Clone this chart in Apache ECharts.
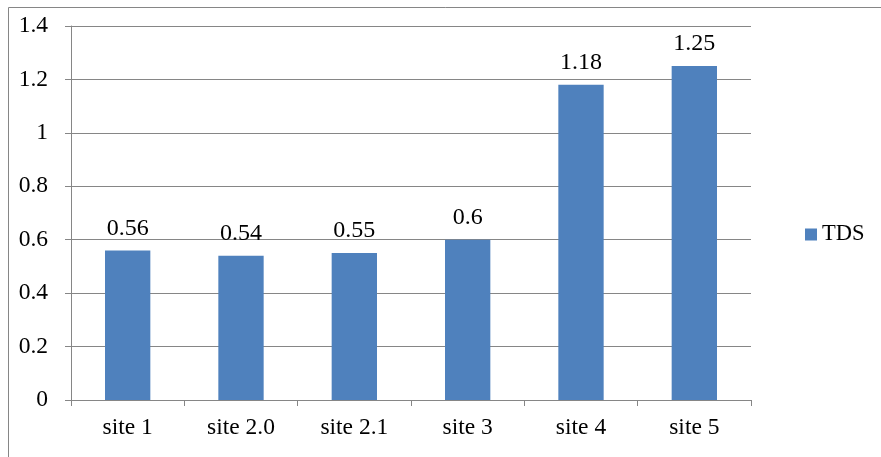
<!DOCTYPE html>
<html>
<head>
<meta charset="utf-8">
<script src="https://cdn.jsdelivr.net/npm/echarts@6/dist/echarts.min.js"></script>
<style>
  html, body { margin: 0; padding: 0; background: #fff; }
  #chart { width: 881px; height: 457px; }
</style>
</head>
<body>
<div id="chart"></div>
<script>
// Sites sampled and their TDS readings
const categories = ['site 1', 'site 2.0', 'site 2.1', 'site 3', 'site 4', 'site 5'];
const tdsValues = [0.56, 0.54, 0.55, 0.6, 1.18, 1.25];
const seriesName = 'TDS';

const FONT = '"Liberation Serif", "Times New Roman", serif';
const GRID_COLOR = '#868686';

const chart = echarts.init(document.getElementById('chart'), null, { renderer: 'canvas' });

chart.setOption({
  backgroundColor: '#ffffff',
  animation: false,
  graphic: [
    {
      type: 'rect',
      shape: { x: 8.5, y: 7.5, width: 900, height: 480 },
      style: { fill: 'none', stroke: GRID_COLOR, lineWidth: 1 },
      silent: true
    }
  ],
  legend: {
    data: [seriesName],
    left: 800,
    top: 218,
    itemWidth: 12,
    itemHeight: 12,
    icon: 'rect',
    textStyle: { fontFamily: FONT, fontSize: 22.5, color: '#000' }
  },
  grid: {
    left: 71,
    right: 130,
    top: 26,
    bottom: 57,
    containLabel: false
  },
  xAxis: {
    type: 'category',
    data: categories,
    axisLine: { show: true, lineStyle: { color: GRID_COLOR, width: 1 } },
    axisTick: { show: true, length: 6, alignWithLabel: false, lineStyle: { color: GRID_COLOR } },
    axisLabel: { fontFamily: FONT, fontSize: 23.5, color: '#000', margin: 16 },
    splitLine: { show: false }
  },
  yAxis: {
    type: 'value',
    min: 0,
    max: 1.4,
    interval: 0.2,
    axisLine: { show: true, lineStyle: { color: GRID_COLOR, width: 1 } },
    axisTick: { show: true, length: 6, inside: false, lineStyle: { color: GRID_COLOR } },
    axisLabel: {
      fontFamily: FONT, fontSize: 23.5, color: '#000', margin: 23,
      formatter: v => String(Math.round(v * 10) / 10)
    },
    splitLine: { show: true, lineStyle: { color: GRID_COLOR, width: 1 } }
  },
  series: [
    {
      name: seriesName,
      type: 'bar',
      data: tdsValues,
      barWidth: '40%',
      itemStyle: { color: '#4F81BD' },
      label: {
        show: true,
        position: 'top',
        distance: 10,
        fontFamily: FONT,
        fontSize: 24,
        color: '#000',
        formatter: p => String(p.value)
      }
    }
  ]
});
</script>
</body>
</html>
